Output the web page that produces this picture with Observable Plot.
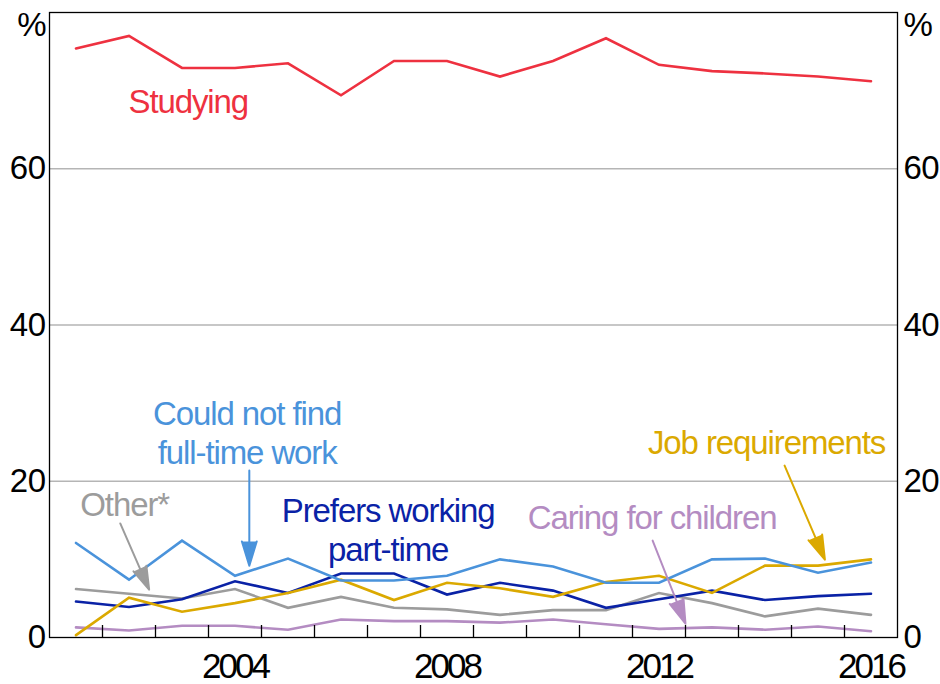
<!DOCTYPE html>
<html>
<head>
<meta charset="utf-8">
<script src="https://cdn.jsdelivr.net/npm/d3@7"></script>
<script src="https://cdn.jsdelivr.net/npm/@observablehq/plot@0.6"></script>
<style>
  body { margin: 0; background: #fff; }
  #chart svg { display: block; overflow: hidden; }
  #chart svg text { font-family: "Liberation Sans", Arial, sans-serif; letter-spacing: -1.1px; }
  #chart svg g[aria-label="x-axis tick label"] text { letter-spacing: -3px; }
  #chart svg g[aria-label="y-axis tick label"] text { letter-spacing: -0.5px; }
</style>
</head>
<body>
<div id="chart"></div>
<script>
// ---- data ----
const years = [2001, 2002, 2003, 2004, 2005, 2006, 2007, 2008, 2009, 2010, 2011, 2012, 2013, 2014, 2015, 2016];
const studying        = [75.4, 77.0, 72.9, 72.9, 73.5, 69.4, 73.8, 73.8, 71.8, 73.8, 76.7, 73.3, 72.5, 72.2, 71.8, 71.2];
const couldNotFind    = [12.1, 7.4, 12.4, 7.9, 10.1, 7.3, 7.3, 7.9, 10.0, 9.1, 7.0, 7.0, 10.0, 10.1, 8.3, 9.6];
const prefersPartTime = [4.6, 3.9, 4.9, 7.2, 5.7, 8.2, 8.2, 5.5, 7.0, 6.0, 3.8, 4.9, 6.0, 4.8, 5.3, 5.6];
const jobRequirements = [0.3, 5.1, 3.3, 4.4, 5.7, 7.4, 4.8, 7.0, 6.3, 5.2, 7.1, 7.9, 5.7, 9.2, 9.2, 10.0];
const other           = [6.2, 5.6, 5.0, 6.2, 3.8, 5.2, 3.8, 3.6, 2.9, 3.5, 3.5, 5.7, 4.4, 2.7, 3.7, 2.9];
const caring          = [1.3, 0.9, 1.5, 1.5, 1.0, 2.3, 2.1, 2.1, 1.9, 2.3, 1.7, 1.1, 1.3, 1.0, 1.4, 0.8];

const yTicks = [0, 20, 40, 60];
const gridValues = [20, 40, 60];
const tickYears = [2002, 2003, 2004, 2005, 2006, 2007, 2008, 2009, 2010, 2011, 2012, 2013, 2014, 2015, 2016];
const labelYears = [2004, 2008, 2012, 2016];
const title = "Main reason for working part-time, people aged 15–24, by year";

const colors = {
  studying: "#ee3140",
  couldNotFind: "#4a93db",
  prefers: "#0a22a6",
  job: "#dba900",
  other: "#9c9c9c",
  caring: "#b48cc2"
};

const series = [
  { name: "Other*", values: other, color: colors.other },
  { name: "Caring for children", values: caring, color: colors.caring },
  { name: "Prefers working part-time", values: prefersPartTime, color: colors.prefers },
  { name: "Job requirements", values: jobRequirements, color: colors.job },
  { name: "Could not find full-time work", values: couldNotFind, color: colors.couldNotFind },
  { name: "Studying", values: studying, color: colors.studying }
];

const annotations = [
  { text: "Studying", x: 2002.49, y: 67.1, anchor: "start", color: colors.studying },
  { text: "Could not find\nfull-time work", x: 2004.73, y: 22.27, anchor: "middle", color: colors.couldNotFind },
  { text: "Other*", x: 2001.58, y: 15.6, anchor: "start", color: colors.other },
  { text: "Prefers working\npart-time", x: 2007.39, y: 9.83, anchor: "middle", color: colors.prefers },
  { text: "Caring for children", x: 2012.37, y: 13.94, anchor: "middle", color: colors.caring },
  { text: "Job requirements", x: 2014.53, y: 23.55, anchor: "middle", color: colors.job }
];

const arrows = [
  { x1: 2004.77, y1: 21.37, x2: 2004.77, y2: 9.19, color: colors.couldNotFind },
  { x1: 2002.335, y1: 14.6, x2: 2002.88, y2: 6.12, color: colors.other },
  { x1: 2012.38, y1: 12.4, x2: 2013.0, y2: 1.76, color: colors.caring },
  { x1: 2014.87, y1: 22.01, x2: 2015.63, y2: 9.96, color: colors.job }
];

// ---- chart ----
const lineMarks = series.map(s =>
  Plot.line(years.map((yr, i) => ({ year: yr + 0.5, value: s.values[i] })), {
    x: "year", y: "value", stroke: s.color, strokeWidth: 2.6, strokeLinejoin: "miter", strokeMiterlimit: 4
  })
);

const annotationMarks = annotations.map(a =>
  Plot.text([a], {
    x: "x", y: "y", text: "text", textAnchor: a.anchor, lineAnchor: "bottom",
    lineHeight: 1.17, fontSize: 33, fill: a.color
  })
);

const arrowMarks = arrows.map(a =>
  Plot.arrow([a], {
    x1: "x1", y1: "y1", x2: "x2", y2: "y2", stroke: a.color, fill: a.color,
    strokeWidth: 2, headLength: 19, headAngle: 34
  })
);

const chart = Plot.plot({
  width: 940,
  height: 684,
  marginLeft: 49,
  marginRight: 43,
  marginTop: 12,
  marginBottom: 47,
  style: { background: "#fff", color: "black", fontFamily: "Liberation Sans, Arial, sans-serif" },
  x: { domain: [2001, 2017] },
  y: { domain: [0, 80] },
  marks: [
    Plot.gridY(gridValues, { stroke: "#b5b5b5", strokeOpacity: 1, strokeWidth: 1.3 }),
    ...lineMarks,
    ...arrowMarks,
    ...annotationMarks,
    Plot.ruleX(tickYears, { y1: 0, y2: 0, insetTop: -12, stroke: "black", strokeWidth: 1.3 }),
    Plot.frame({ stroke: "black", strokeWidth: 1.3 }),
    Plot.axisY({ anchor: "left", ticks: yTicks, tickSize: 0, tickPadding: 4, fontSize: 33, label: null }),
    Plot.axisY({ anchor: "right", ticks: yTicks, tickSize: 0, tickPadding: 6, fontSize: 33, label: null }),
    Plot.axisX({ anchor: "bottom", ticks: labelYears.map(y => y + 0.5), tickSize: 0, tickPadding: 16,
      tickFormat: d => String(Math.floor(d)), fontSize: 35, label: null }),
    Plot.text(["%"], { text: d => d, frameAnchor: "top-left", dx: -4, dy: 12.5, textAnchor: "end", lineAnchor: "middle", fontSize: 33 }),
    Plot.text(["%"], { text: d => d, frameAnchor: "top-right", dx: 6, dy: 12.5, textAnchor: "start", lineAnchor: "middle", fontSize: 33 }),
    Plot.text([title], { text: d => d, frameAnchor: "top", dy: -19, lineAnchor: "bottom", fontSize: 28 })
  ]
});

document.getElementById("chart").appendChild(chart);
</script>
</body>
</html>
